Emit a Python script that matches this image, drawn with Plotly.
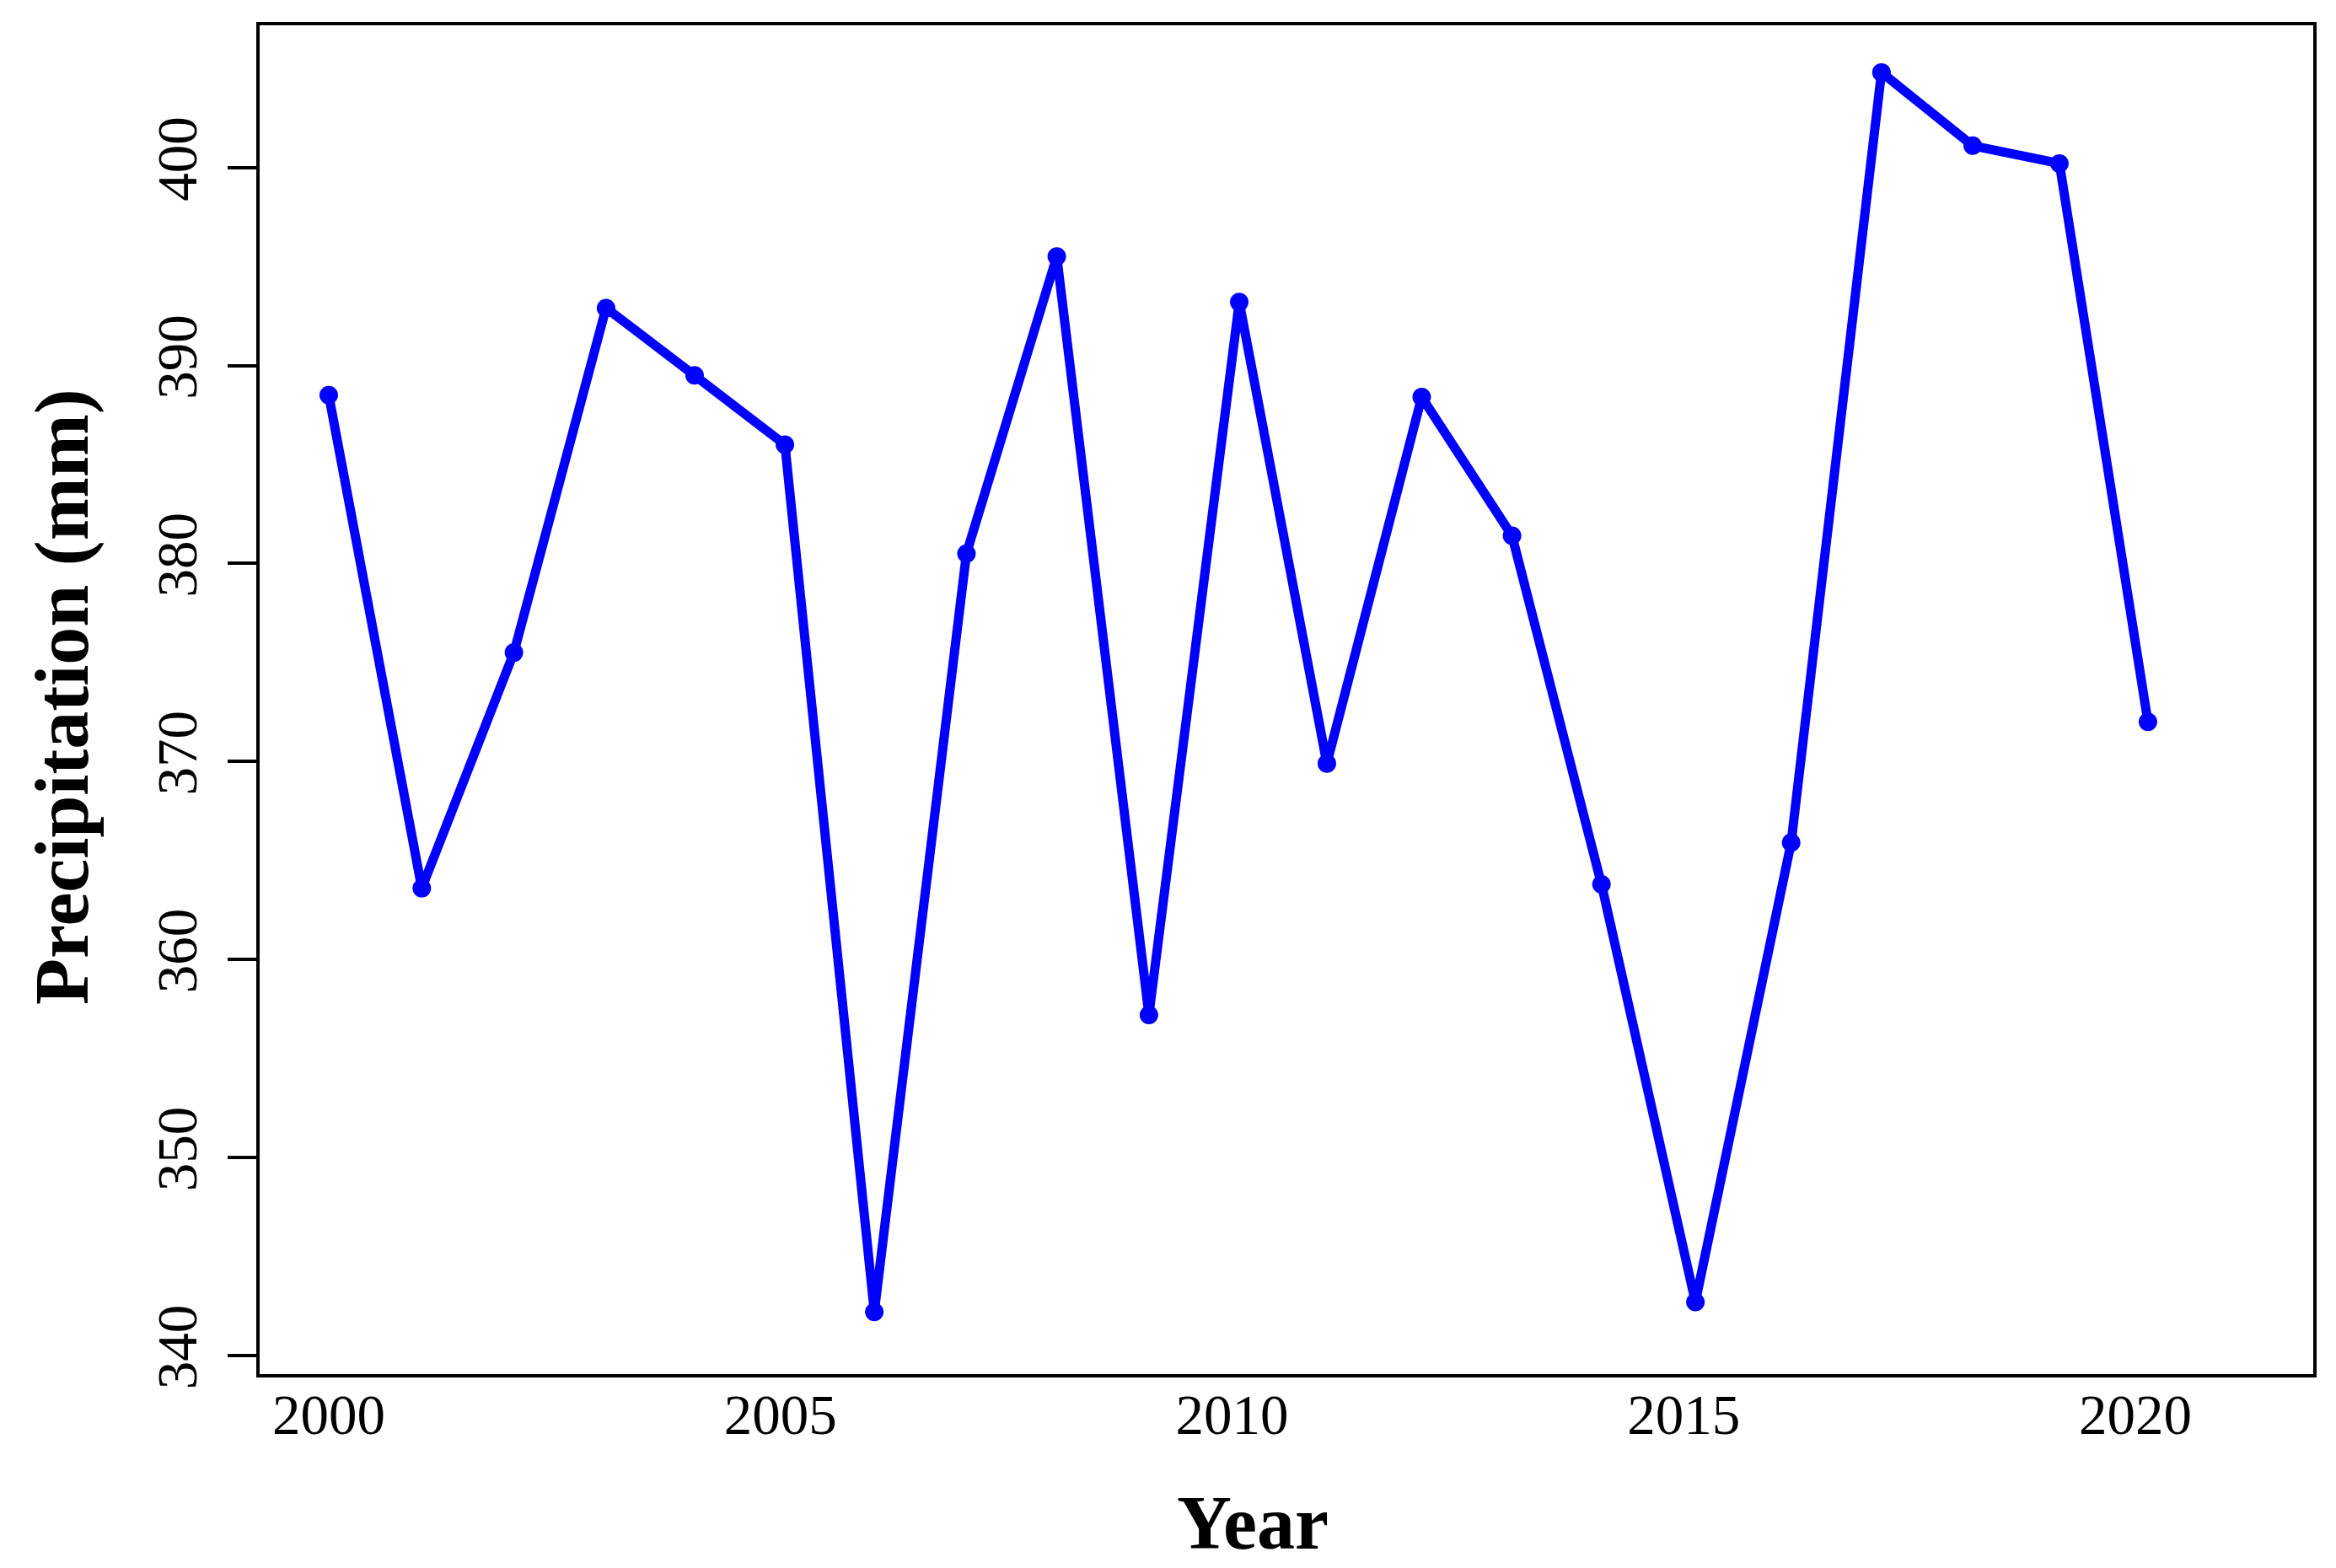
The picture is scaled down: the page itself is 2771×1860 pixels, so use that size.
# Annual precipitation line chart (R base-graphics look)

import plotly.graph_objects as go

# Data
years = [2000.00, 2001.03, 2002.05, 2003.07, 2004.05, 2005.05, 2006.04,
         2007.06, 2008.06, 2009.08, 2010.08, 2011.05, 2012.10, 2013.10,
         2014.09, 2015.13, 2016.19, 2017.19, 2018.20, 2019.16, 2020.14]
precip = [388.5, 363.6, 375.5, 392.9, 389.5, 386.0, 342.2,
          380.5, 395.5, 357.2, 393.2, 369.9, 388.4, 381.4,
          363.8, 342.7, 365.9, 404.8, 401.1, 400.2, 372.0]

x_ticks = [2000, 2005, 2010, 2015, 2020]
y_ticks = [340, 350, 360, 370, 380, 390, 400]

SERIF = "Liberation Serif, Times New Roman, serif"

fig = go.Figure()

fig.add_trace(
    go.Scatter(
        x=years,
        y=precip,
        mode="lines+markers",
        line=dict(color="#0000FF", width=11),
        marker=dict(color="#0000FF", size=22),
        showlegend=False,
    )
)

# page body adds ~8px offset, margins compensate for it
fig.update_layout(
    width=2771,
    height=1860,
    margin=dict(l=300, r=35, t=22, b=238),
    paper_bgcolor="white",
    plot_bgcolor="white",
    font=dict(family=SERIF, color="black", size=67),
    xaxis=dict(
        range=[1999.235, 2021.97],
        tickvals=x_ticks,
        ticktext=[str(v) for v in x_ticks],
        ticks="",
        showgrid=False,
        zeroline=False,
        showline=True,
        linecolor="black",
        linewidth=4,
        mirror=True,
        tickfont=dict(family=SERIF, size=67, color="black"),
        ticklabelstandoff=-13,
    ),
    yaxis=dict(
        range=[339.06, 407.18],
        tickvals=y_ticks,
        ticktext=[str(v) for v in y_ticks],
        ticks="outside",
        ticklen=34,
        tickwidth=4,
        tickcolor="black",
        tickangle=-90,
        showgrid=False,
        zeroline=False,
        showline=True,
        linecolor="black",
        linewidth=4,
        mirror=True,
        tickfont=dict(family=SERIF, size=67, color="black"),
        ticklabelstandoff=10,
    ),
    annotations=[
        dict(
            text="<b>Year</b>",
            xref="paper", yref="paper",
            x=0.4836, y=-0.1106,
            xanchor="center", yanchor="middle",
            showarrow=False,
            font=dict(family=SERIF, size=90, color="black"),
        ),
        dict(
            text="<b>Precipitation (mm)</b>",
            xref="paper", yref="paper",
            x=-0.0961, y=0.5025,
            xanchor="center", yanchor="middle",
            textangle=-90,
            showarrow=False,
            font=dict(family=SERIF, size=90, color="black"),
        ),
    ],
)

fig.write_html("out.html")
